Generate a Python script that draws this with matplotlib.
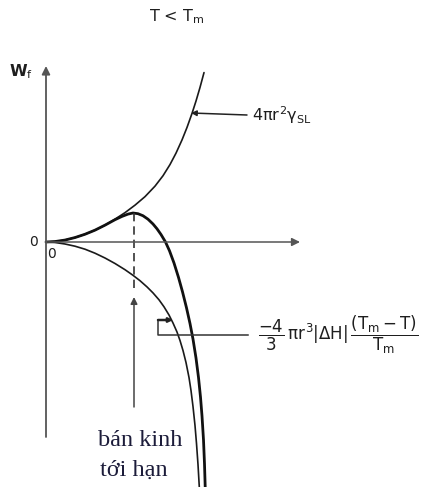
import matplotlib
matplotlib.use("Agg")
import matplotlib.pyplot as plt

# curves read in diagram units (r to the right, W_f upward, origin at 0,0)
r_surface = [0, 9, 19, 29, 39, 49, 59, 69, 79, 89, 99, 109, 117, 124, 130, 136, 141, 146, 150, 154, 158]
w_surface = [0, 0.45, 1.95, 4.45, 7.75, 11.85, 16.85, 22.85, 29.35, 36.85, 45.35, 55.85, 66.25,
             77.45, 88.85, 102.05, 114.55, 128.55, 140.95, 154.55, 169.4]

r_volume = [0, 9, 19, 29, 39, 49, 59, 69, 79, 87, 94, 101, 107, 113, 118, 123, 127, 131, 134,
            137, 140, 143, 145, 147, 149, 150.5, 152, 153.3]
w_volume = [0, -0.5, -2, -4.2, -7.2, -11.2, -16, -21.5, -27.7, -33.3, -38.7, -44.9, -50.9, -57.8,
            -64.8, -73, -81, -90, -98.5, -108.5, -120.5, -135.5, -148.5, -164.5, -183.5, -201.5,
            -222.5, -245]

r_total = [0, 9, 19, 29, 39, 49, 59, 69, 76, 82, 87, 92, 97, 102, 107, 111, 115, 119.5, 123.5,
           128, 132.5, 136.5, 140.5, 144, 147, 150, 152.5, 154.5, 156, 157.5, 158.5, 159.2]
w_total = [0, 0.45, 1.95, 4.45, 7.75, 11.85, 16.85, 22.3, 25.6, 27.9, 29, 28.3, 26.25, 22.8, 18,
           13.2, 7.5, 0, -8.8, -21, -35.4, -49.8, -65.8, -81.5, -97.1, -116, -135.5, -155.1,
           -173.9, -197.9, -221.9, -245]

r_critical = 88
label_volume = r'$\dfrac{-4}{3}\,\pi r^3|\Delta H|\,\dfrac{(T_m-T)}{T_m}$'
label_surface = r'$4\pi r^2\gamma_{SL}$'

# upright sans for all math text
plt.rcParams['mathtext.fontset'] = 'custom'
plt.rcParams['mathtext.rm'] = 'DejaVu Sans'
plt.rcParams['mathtext.it'] = 'DejaVu Sans'
plt.rcParams['mathtext.bf'] = 'DejaVu Sans:bold'

fig = plt.figure(figsize=(4.32, 4.87), dpi=100)
ax = fig.add_axes([0, 0, 1, 1])
ax.set_xlim(-46, 386)
ax.set_ylim(-245, 242)
ax.axis('off')

axis_col = '#555555'
txt_col = '#1e1e1e'
# axes with arrow heads
ax.annotate('', xy=(0, 176), xytext=(0, -195),
            arrowprops=dict(arrowstyle='-|>', color=axis_col, lw=1.3,
                            mutation_scale=12, shrinkA=0, shrinkB=0))
ax.annotate('', xy=(254, 0), xytext=(0, 0),
            arrowprops=dict(arrowstyle='-|>', color=axis_col, lw=1.1,
                            mutation_scale=12, shrinkA=0, shrinkB=0))

ax.plot(r_surface, w_surface, color='#1a1a1a', lw=1.2, solid_capstyle='round')
ax.plot(r_volume, w_volume, color='#1a1a1a', lw=1.2, solid_capstyle='round')
ax.plot(r_total, w_total, color='#111111', lw=2.0, solid_capstyle='round', solid_joinstyle='round')

# critical radius marker
ax.plot([r_critical, r_critical], [29, -50], color='#333333', lw=1.2, ls=(0, (5, 3)))
ax.annotate('', xy=(r_critical, -55), xytext=(r_critical, -165),
            arrowprops=dict(arrowstyle='-|>', color='#444444', lw=1.1,
                            mutation_scale=10, shrinkA=0, shrinkB=0))

# leader for the surface term
ax.annotate('', xy=(145, 129), xytext=(201, 127),
            arrowprops=dict(arrowstyle='-|>', color='#222222', lw=1.1,
                            mutation_scale=8, shrinkA=0, shrinkB=0))
ax.text(206, 127, label_surface, fontsize=11.5, va='center', ha='left', color=txt_col)

# bracket leader for the volume term
ax.plot([202, 112, 112], [-93, -93, -78], color='#333333', lw=1.1)
ax.annotate('', xy=(127, -78), xytext=(112, -78),
            arrowprops=dict(arrowstyle='-|>', color='#222222', lw=1.8,
                            mutation_scale=6, shrinkA=0, shrinkB=0))
ax.text(212, -93, label_volume, fontsize=12, va='center', ha='left', color=txt_col)

ax.text(131, 225, r'T < T$_m$', fontsize=11.5, ha='center', va='center', color=txt_col)
ax.text(-25, 170, r'W$_f$', fontsize=11.5, ha='center', va='center', color=txt_col,
        fontweight='bold')
ax.text(-13, 0, '0', fontsize=10, ha='center', va='center', color=txt_col)
ax.text(6, -12, '0', fontsize=10, ha='center', va='center', color=txt_col)

ax.text(94, -198, 'bán kinh', family='Liberation Serif', fontsize=17.5,
        ha='center', va='center', color='#1c1c3a')
ax.text(88, -228, 'tới hạn', family='Liberation Serif', fontsize=17.5,
        ha='center', va='center', color='#1c1c3a')

fig.savefig('out.png', dpi=100)
